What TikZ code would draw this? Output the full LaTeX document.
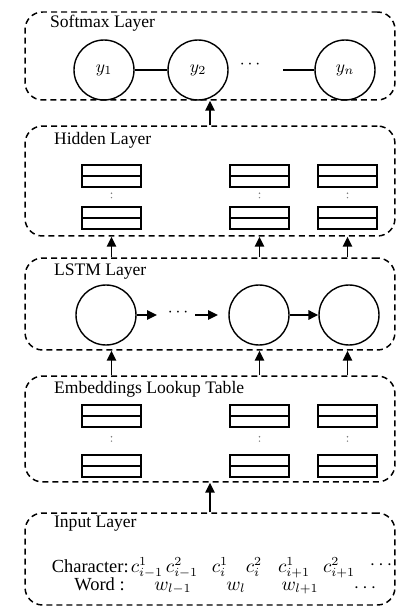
\documentclass[tikz,border=0pt]{standalone}
\usepackage{fontspec}
\setmainfont{Liberation Serif}
\usetikzlibrary{arrows.meta}
\begin{document}
\begin{tikzpicture}[x=0.02cm,y=-0.02cm,
  layer/.style={draw,line width=0.85pt,dash pattern=on 3.4pt off 2.3pt,rounded corners=0.35cm,minimum width=7.4cm,inner sep=0},
  title/.style={anchor=west,font=\normalsize,inner sep=1pt},
  cell/.style={draw,line width=1.1pt,minimum width=1.18cm,minimum height=0.44cm,inner sep=0,
    path picture={\draw[line width=1.1pt] (path picture bounding box.west) -- (path picture bounding box.east);}},
  neuron/.style={draw,circle,line width=0.8pt,minimum size=1.2cm,inner sep=0},
  vdot/.style={gray,line width=0.9pt,line cap=round,dash pattern=on 0pt off 2.5pt,shorten <=3pt,shorten >=3pt},
  sym/.style={inner sep=0pt,anchor=base,font=\fontsize{10.5}{12}\selectfont},
  arr/.style={line width=0.9pt,-{Triangle[length=2mm,width=1.9mm]}}]
\useasboundingbox (0,0) rectangle (416,614);
% layers
\node[layer,minimum height=1.76cm] (softmax) at (210,56) {};
\node[layer,minimum height=2.2cm] (hidden) at (210,181) {};
\node[layer,minimum height=1.84cm] (lstm) at (210,304) {};
\node[layer,minimum height=2.12cm] (embed) at (210,429) {};
\node[layer,minimum height=1.84cm] (input) at (210,559) {};
\node[title] (tsoftmax) at (48,23) {Softmax Layer};
\node[title] (thidden) at (52,140) {Hidden Layer};
\node[title] (tlstm) at (52,272) {LSTM Layer};
\node[title] (tembed) at (52,389) {Embeddings Lookup Table};
\node[title] (tinput) at (52,524) {Input Layer};
% softmax
\node[neuron] (y1) at (104,70) {$y_1$};
\node[neuron] (y2) at (198,70) {$y_2$};
\node[neuron] (yn) at (345,70) {$y_n$};
\node[inner sep=0.5pt] (sdots) at (250,65) {$\cdots$};
\coordinate (sm) at (283,70);
\draw[line width=0.8pt] (y1) -- (y2);
\draw[line width=0.8pt] (sm) -- (yn);
% hidden and embeddings
\foreach \n/\x in {1/111.5,2/259.5,3/347.5}
{
\node[cell] (h\n) at (\x,176) {};
\node[cell] (hb\n) at (\x,218) {};
\draw[vdot] (h\n) -- (hb\n);
\node[cell] (e\n) at (\x,416) {};
\node[cell] (eb\n) at (\x,466) {};
\draw[vdot,shorten <=5pt,shorten >=5pt] (e\n) -- (eb\n);
}
% lstm
\node[neuron] (l1) at (106,315) {};
\node[neuron] (l2) at (259,315) {};
\node[neuron] (l3) at (349,315) {};
\node[inner sep=0.5pt] (ldots) at (178,313) {$\cdots$};
\coordinate (la) at (157,315);
\coordinate (lb) at (195,315);
\coordinate (lc) at (218,315);
\draw[arr] (l1) -- (la);
\draw[arr] (lb) -- (lc);
\draw[arr] (l2) -- (l3);
% between layers
\draw[arr] (hidden.north) -- (softmax.south);
\foreach \n in {1,2,3}
{
\draw[arr] (lstm.north -| h\n) -- (hidden.south -| h\n);
\draw[arr] (embed.north -| e\n) -- (lstm.south -| e\n);
}
\draw[arr] (input.north) -- (embed.south);
% input
\node[sym,anchor=base east] (tchar) at (129,572) {Character:};
\node[sym] (c1) at (147,572) {$c_{i-1}^{1}$};
\node[sym] (c2) at (182,572) {$c_{i-1}^{2}$};
\node[sym] (c3) at (220,572) {$c_{i}^{1}$};
\node[sym] (c4) at (254,572) {$c_{i}^{2}$};
\node[sym] (c5) at (294,572) {$c_{i+1}^{1}$};
\node[sym] (c6) at (339,572) {$c_{i+1}^{2}$};
\node[sym] (cdots) at (381,569) {$\cdots$};
\node[sym,anchor=base east] (tword) at (125,590) {Word :};
\node[sym] (w1) at (173,590) {$w_{l-1}$};
\node[sym] (w2) at (236,590) {$w_{l}$};
\node[sym] (w3) at (300,590) {$w_{l+1}$};
\node[sym] (wdots) at (365,592) {$\cdots$};
\end{tikzpicture}
\end{document}
